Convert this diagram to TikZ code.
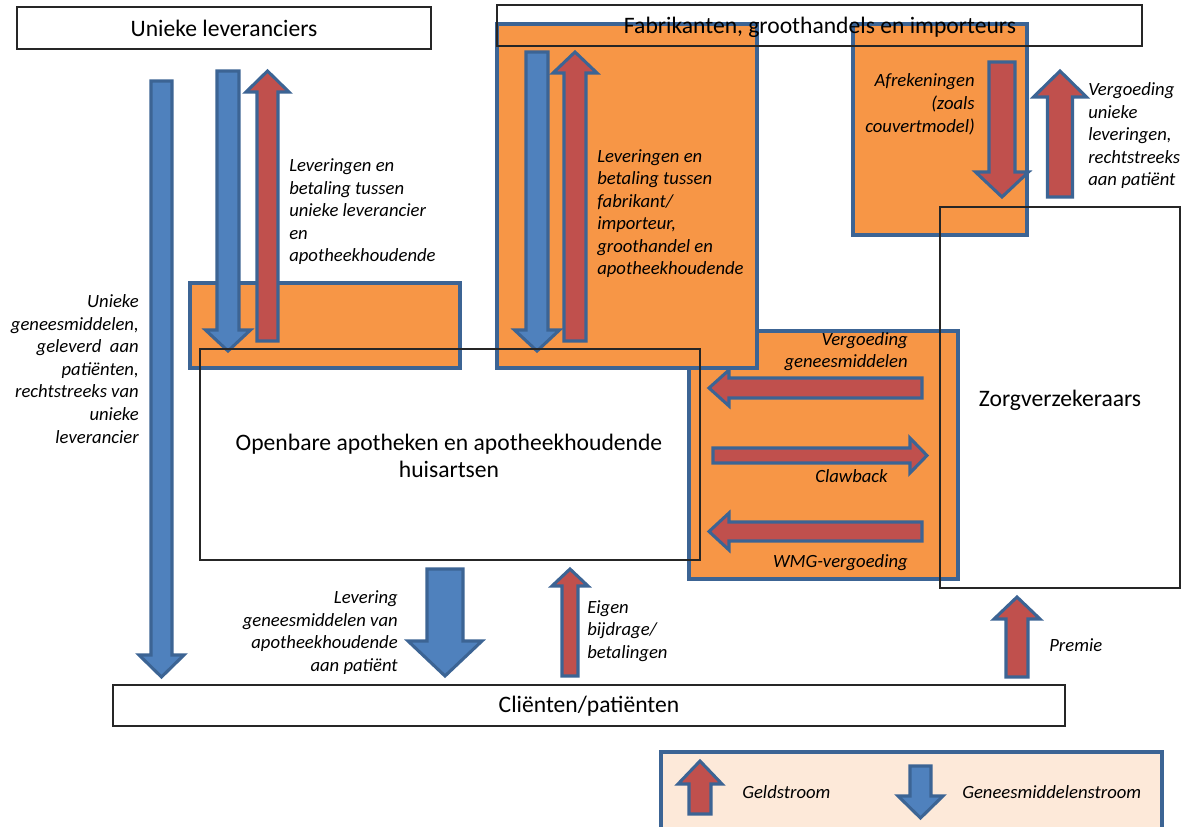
\documentclass[tikz,border=0pt]{standalone}
\usepackage{fontspec}
\setmainfont{Carlito}
\definecolor{orng}{HTML}{F79646}
\definecolor{blu}{HTML}{4F81BD}
\definecolor{rd}{HTML}{C0504D}
\definecolor{edgeblue}{HTML}{3C6494}
\definecolor{peach}{HTML}{FDE9D9}
\tikzset{
  frame/.style={draw=black!85, line width=0.9pt},
  orangebox/.style={fill=orng, draw=edgeblue, line width=2.6pt},
  arrowline/.style={draw=edgeblue, line width=2.3pt, line join=miter},
  title/.style={font=\fontsize{17.7}{20.5}\selectfont, inner sep=0pt},
  lbl/.style={font=\itshape\fontsize{14}{16.9}\selectfont, inner sep=0pt},
}
% color, cx, ytop, ytip, halfshaft, halfhead, headlen
\newcommand{\blockdown}[7]{%
  \filldraw[arrowline, fill=#1] ({#2-#5},{#3}) -- ({#2+#5},{#3}) -- ({#2+#5},{#4-#7}) -- ({#2+#6},{#4-#7}) -- ({#2},{#4}) -- ({#2-#6},{#4-#7}) -- ({#2-#5},{#4-#7}) -- cycle;}
% color, cx, ybottom, ytip, halfshaft, halfhead, headlen
\newcommand{\blockup}[7]{%
  \filldraw[arrowline, fill=#1] ({#2-#5},{#3}) -- ({#2+#5},{#3}) -- ({#2+#5},{#4+#7}) -- ({#2+#6},{#4+#7}) -- ({#2},{#4}) -- ({#2-#6},{#4+#7}) -- ({#2-#5},{#4+#7}) -- cycle;}
% color, cy, xright, xtip, halfshaft, halfhead, headlen
\newcommand{\blockleft}[7]{%
  \filldraw[arrowline, fill=#1] ({#3},{#2-#5}) -- ({#3},{#2+#5}) -- ({#4+#7},{#2+#5}) -- ({#4+#7},{#2+#6}) -- ({#4},{#2}) -- ({#4+#7},{#2-#6}) -- ({#4+#7},{#2-#5}) -- cycle;}
% color, cy, xleft, xtip, halfshaft, halfhead, headlen
\newcommand{\blockright}[7]{%
  \filldraw[arrowline, fill=#1] ({#3},{#2-#5}) -- ({#3},{#2+#5}) -- ({#4-#7},{#2+#5}) -- ({#4-#7},{#2+#6}) -- ({#4},{#2}) -- ({#4-#7},{#2-#6}) -- ({#4-#7},{#2-#5}) -- cycle;}
\begin{document}
\begin{tikzpicture}[x=0.75pt, y=-0.75pt]
\clip (0,0) rectangle (1189,827);
\fill[white] (0,0) rectangle (1189,827);

% orange background boxes
\draw[orangebox] (689,331) rectangle (958,579);
\draw[orangebox] (190,283) rectangle (460,368);
\draw[orangebox] (497,24) rectangle (757,368);
\draw[orangebox] (853,24) rectangle (1027,235);

% legend box
\draw[fill=peach, draw=edgeblue, line width=2.6pt] (661,752) rectangle (1162,840);

% arrows
\blockdown{blu}{161.5}{81}{677}{10.5}{22.5}{22}
\blockdown{blu}{228}{71}{351}{11}{22.5}{21}
\blockup{rd}{267.5}{341}{71}{10.5}{21.5}{21}
\blockdown{blu}{537}{52}{351}{11}{22.5}{21}
\blockup{rd}{575}{341}{52}{11}{22}{21}
\blockdown{rd}{1002}{62}{197}{13}{26.5}{25}
\blockup{rd}{1060}{197}{71}{12.5}{26.5}{26}
\blockleft{rd}{388}{922}{709}{10}{18}{20}
\blockright{rd}{455.5}{713}{927}{7.5}{17.5}{17}
\blockleft{rd}{531.5}{922}{709}{9.5}{18.5}{20}
\blockdown{blu}{445}{569}{676}{18}{37}{35}
\blockup{rd}{570}{676}{569}{8}{18}{17}
\blockup{rd}{1017}{677}{597}{11}{23}{22}
\blockup{rd}{700}{814}{761}{11}{22}{23}
\blockdown{blu}{920.5}{766}{818}{10.5}{22.5}{22}

% frames
\draw[frame] (17,7) rectangle (431,49);
\draw[frame] (497,5) rectangle (1142,46);
\draw[frame] (200,349) rectangle (700,560);
\draw[frame] (940,207) rectangle (1180,588);
\draw[frame] (113,685) rectangle (1065,726);

% titles
\node[title] (unieke) at (224,28) {Unieke leveranciers};
\node[title] (fabr) at (820,27) {Fabrikanten, groothandels en importeurs};
\node[title, align=center] (openbaar) at (449,456) {Openbare apotheken en apotheekhoudende\\huisartsen};
\node[title] (zorg) at (1060,400) {Zorgverzekeraars};
\node[title] (client) at (589,706) {Cliënten/patiënten};

% labels
\node[lbl, align=right, anchor=east] (lunieke) at (139,369) {Unieke\\geneesmiddelen,\\geleverd\ \ aan\\patiënten,\\rechtstreeks van\\unieke\\leverancier};
\node[lbl, align=left, anchor=west] (lleva) at (289,212) {Leveringen en\\betaling tussen\\unieke leverancier\\en\\apotheekhoudende};
\node[lbl, align=left, anchor=west] (llevb) at (597,213.5) {Leveringen en\\betaling tussen\\fabrikant/\\importeur,\\groothandel en\\apotheekhoudende};
\node[lbl, align=right, anchor=east] (lafrek) at (975,104.3) {Afrekeningen\\(zoals\\couvertmodel)};
\node[lbl, align=left, anchor=west] (lvergu) at (1088,135.6) {Vergoeding\\unieke\\leveringen,\\rechtstreeks\\aan patiënt};
\node[lbl, align=right, anchor=east] (lvergg) at (908,351.5) {Vergoeding\\geneesmiddelen};
\node[lbl, anchor=east] (lclaw) at (888,476) {Clawback};
\node[lbl, anchor=east] (lwmg) at (908,563) {WMG-vergoeding};
\node[lbl, align=right, anchor=east] (llevering) at (398,632.7) {Levering\\geneesmiddelen van\\apotheekhoudende\\aan patiënt};
\node[lbl, align=left, anchor=west] (leigen) at (587,631) {Eigen\\bijdrage/\\betalingen};
\node[lbl, anchor=west] (lpremie) at (1049,645) {Premie};
\node[lbl, anchor=west] (lgeld) at (742,792) {Geldstroom};
\node[lbl, anchor=west] (lgenees) at (962,792) {Geneesmiddelenstroom};
\end{tikzpicture}
\end{document}
